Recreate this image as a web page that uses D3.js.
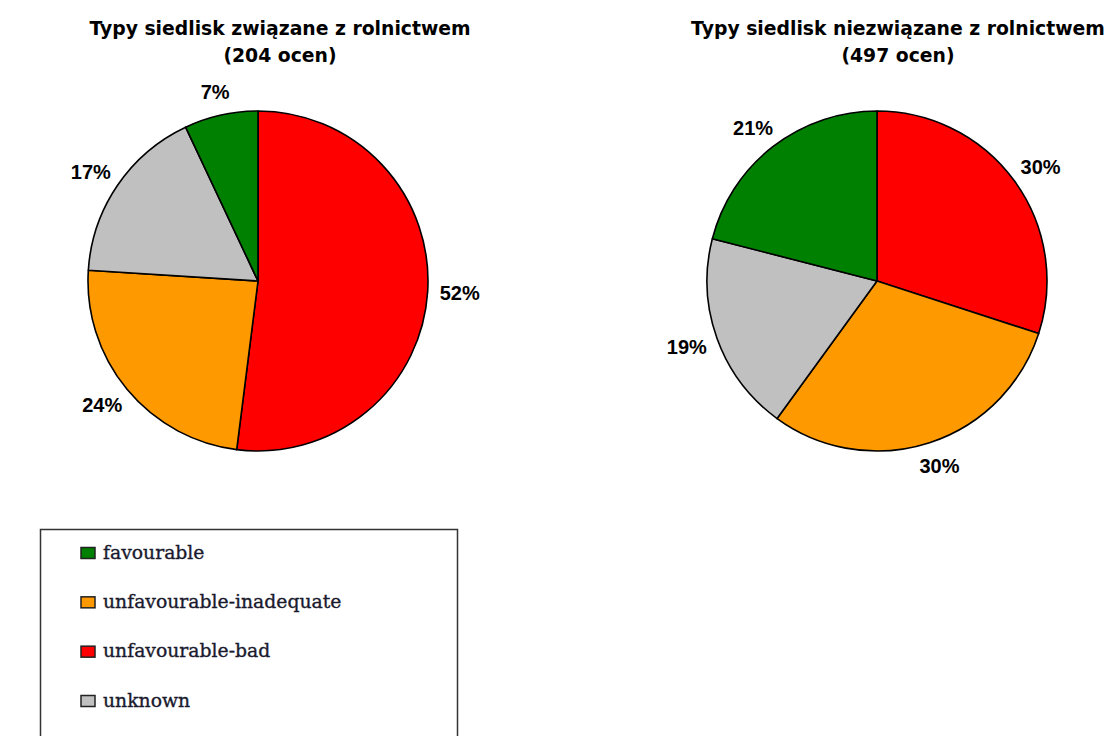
<!DOCTYPE html>
<html>
<head>
<meta charset="utf-8">
<script src="https://cdn.jsdelivr.net/npm/d3@7"></script>
<style>
  html, body { margin: 0; padding: 0; background: #fff; }
  svg { display: block; }
</style>
</head>
<body>
<svg id="chart" width="1114" height="736"></svg>
<script>
// Conservation status categories (clockwise from 12 o'clock: bad, inadequate, unknown, favourable)
const categories = ["unfavourable-bad", "unfavourable-inadequate", "unknown", "favourable"];
const legendOrder = ["favourable", "unfavourable-inadequate", "unfavourable-bad", "unknown"];
const colors = ["#FF0000", "#FF9900", "#C0C0C0", "#008000"];

// Percent shares per habitat group
const agriValues = [52, 24, 17, 7];
const nonAgriValues = [30, 30, 19, 21];

const titles = [
  ["Typy siedlisk związane z rolnictwem", "(204 ocen)"],
  ["Typy siedlisk niezwiązane z rolnictwem", "(497 ocen)"]
];

const svg = d3.select("#chart");
const color = d3.scaleOrdinal().domain(categories).range(colors);

const radius = 170;
const labelRadius = 182;
const pie = d3.pie().sort(null).value(d => d.value);
const arc = d3.arc().innerRadius(0).outerRadius(radius);
const labelArc = d3.arc().innerRadius(labelRadius).outerRadius(labelRadius);

const charts = [
  { cx: 258, cy: 281, titleX: 280, values: agriValues, title: titles[0] },
  { cx: 877, cy: 281, titleX: 898, values: nonAgriValues, title: titles[1] }
];

charts.forEach(c => {
  const data = categories.map((k, i) => ({ key: k, value: c.values[i] }));

  const t = svg.append("text")
    .attr("x", c.titleX)
    .attr("y", 35)
    .attr("text-anchor", "middle")
    .style("font-family", "'DejaVu Sans', Verdana, sans-serif")
    .style("font-weight", "bold")
    .style("font-size", "18.8px")
    .attr("fill", "#000");
  t.append("tspan").attr("x", c.titleX).text(c.title[0]);
  t.append("tspan").attr("x", c.titleX).attr("dy", 27).text(c.title[1]);

  const g = svg.append("g").attr("transform", `translate(${c.cx},${c.cy})`);
  const arcs = pie(data);

  g.selectAll("path")
    .data(arcs)
    .join("path")
    .attr("d", arc)
    .attr("fill", d => color(d.data.key))
    .attr("stroke", "#000")
    .attr("stroke-width", 1.6)
    .attr("stroke-linejoin", "round");

  // Outside-end labels: the box is pushed out so its inner edge sits on the label circle
  g.selectAll("text.pct")
    .data(arcs)
    .join("text")
    .attr("class", "pct")
    .attr("text-anchor", "middle")
    .attr("dy", "0.36em")
    .style("font-family", "'Liberation Sans', Arial, sans-serif")
    .style("font-weight", "bold")
    .style("font-size", "20px")
    .attr("fill", "#000")
    .text(d => d.data.value + "%")
    .attr("transform", function (d) {
      const bb = this.getBBox();
      const a = (d.startAngle + d.endAngle) / 2;
      const [x, y] = labelArc.centroid(d);
      const ox = Math.sin(a) * bb.width / 2;
      const oy = -Math.cos(a) * 12;
      return `translate(${x + ox},${y + oy})`;
    });
});

// Legend
const legend = svg.append("g");
legend.append("rect")
  .attr("x", 40.5).attr("y", 529.5)
  .attr("width", 417).attr("height", 240)
  .attr("fill", "#fff")
  .attr("stroke", "#333")
  .attr("stroke-width", 1.5);

const rowY = d3.scalePoint().domain(legendOrder).range([553, 701]);

const items = legend.selectAll("g.item")
  .data(legendOrder)
  .join("g")
  .attr("class", "item")
  .attr("transform", d => `translate(80,${rowY(d)})`);

items.append("rect")
  .attr("x", 1).attr("y", -5.5)
  .attr("width", 14).attr("height", 11)
  .attr("fill", d => color(d))
  .attr("stroke", "#222")
  .attr("stroke-width", 1.5);

items.append("text")
  .attr("x", 23)
  .attr("y", 0)
  .attr("dy", "0.3em")
  .style("font-family", "'DejaVu Serif', 'Times New Roman', serif")
  .style("font-size", "18.8px")
  .attr("fill", "#1a1a2e")
  .attr("stroke", "#1a1a2e")
  .attr("stroke-width", 0.35)
  .text(d => d);
</script>
</body>
</html>
